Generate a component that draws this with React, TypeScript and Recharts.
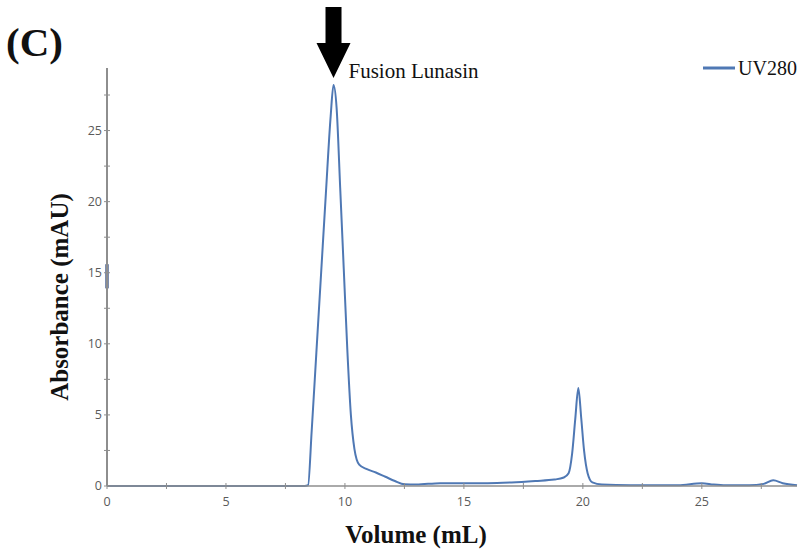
import React from 'react'
import {
  LineChart,
  Line,
  XAxis,
  YAxis,
  ReferenceDot,
  ReferenceLine,
} from 'recharts'

// elution volume (mL) and UV280 absorbance (mAU)
const volume = [
  0, 2, 4, 6, 8, 8.3, 8.45, 8.6, 8.8, 9.0, 9.2, 9.4, 9.52, 9.65, 9.8, 9.95,
  10.1, 10.25, 10.4, 10.6, 10.9, 11.3, 11.7, 12.1, 12.5, 13, 14, 15, 16, 17,
  18, 18.8, 19.2, 19.4, 19.55, 19.68, 19.81, 19.93, 20.05, 20.2, 20.4, 20.8,
  22, 23, 24, 25, 25.5, 26, 27, 27.6, 28, 28.4, 29,
]
const uv280 = [
  0, 0, 0, 0, 0, 0, 0.05, 3.8, 9.4, 15, 20.6, 26, 28.2, 26.6, 21, 15.3,
  9.6, 5, 2.6, 1.5, 1.2, 0.95, 0.65, 0.35, 0.12, 0.1, 0.2, 0.2, 0.2, 0.25,
  0.35, 0.45, 0.6, 0.9, 2.3, 4.7, 6.9, 4.8, 2.5, 0.9, 0.25, 0.1,
  0.05, 0.05, 0.05, 0.2, 0.1, 0.05, 0.05, 0.15, 0.4, 0.2, 0.05,
]
const xTicks = [0, 2.5, 5, 7.5, 10, 12.5, 15, 17.5, 20, 22.5, 25, 27.5]
const yTicks = [0, 2.5, 5, 7.5, 10, 12.5, 15, 17.5, 20, 22.5, 25, 27.5]
const peakLabel = 'Fusion Lunasin'
const peakAt = { x: 9.52, y: 28.2 }
const seriesName = 'UV280'

const data = volume.map((v, i) => ({ volume: v, uv: uv280[i] }))

const LINE = '#4f78b4'
const AXIS = '#8e8e8e'
const TICK_TEXT = '#5a5a5a'
const serif = '"Liberation Serif", "Times New Roman", serif'
const sans = '"Open Sans", "Noto Sans", sans-serif'

const XTick = (p: any) => {
  const v = p.payload.value
  return (
    <g>
      <line x1={p.x} x2={p.x} y1={p.y - 3} y2={p.y + 3} stroke={AXIS} strokeWidth={1} />
      {v % 5 === 0 && (
        <text x={p.x} y={p.y + 20} textAnchor="middle" fontSize={12.5} fill={TICK_TEXT} fontFamily={sans}>
          {v}
        </text>
      )}
    </g>
  )
}

const YTick = (p: any) => {
  const v = p.payload.value
  return (
    <g>
      <line x1={p.x - 3} x2={p.x + 3} y1={p.y} y2={p.y} stroke={AXIS} strokeWidth={1} />
      {v % 5 === 0 && (
        <text x={p.x - 5} y={p.y + 4} textAnchor="end" fontSize={12.5} fill={TICK_TEXT} fontFamily={sans}>
          {v}
        </text>
      )}
    </g>
  )
}

const PeakArrow = (p: any) => {
  const { cx, cy } = p
  const tip = cy - 7
  const base = cy - 42
  const top = cy - 78
  const pts = [
    [cx, tip],
    [cx - 17, base],
    [cx - 8, base],
    [cx - 8, top],
    [cx + 8, top],
    [cx + 8, base],
    [cx + 17, base],
  ]
    .map(q => q.join(','))
    .join(' ')
  return (
    <g>
      <polygon points={pts} fill="#000" />
      <text x={cx + 15} y={tip} fontSize={21} fontFamily={serif} fill="#111">
        {peakLabel}
      </text>
    </g>
  )
}

export default function App() {
  return (
    <div style={{ position: 'absolute', left: 0, top: 0, width: 809, height: 550, background: '#fff' }}>
      <LineChart
        width={809}
        height={550}
        data={data}
        margin={{ top: 68, right: 12, left: 47, bottom: 0 }}
      >
        <XAxis
          dataKey="volume"
          type="number"
          domain={[0, 29]}
          ticks={xTicks}
          interval={0}
          tick={<XTick />}
          tickLine={false}
          tickSize={0}
          tickMargin={0}
          height={64}
          axisLine={{ stroke: AXIS, strokeWidth: 1.5 }}
        />
        <YAxis
          type="number"
          domain={[0, 29.4]}
          ticks={yTicks}
          interval={0}
          tick={<YTick />}
          tickLine={false}
          tickSize={0}
          tickMargin={0}
          width={60}
          axisLine={{ stroke: AXIS, strokeWidth: 2 }}
        />
        <ReferenceLine
          segment={[{ x: 0, y: 13.9 }, { x: 0, y: 15.6 }]}
          stroke="#7b8db0"
          strokeWidth={4}
        />
        <Line
          type="monotone"
          dataKey="uv"
          stroke={LINE}
          strokeWidth={2}
          dot={false}
          isAnimationActive={false}
        />
        <ReferenceDot x={peakAt.x} y={peakAt.y} r={0} shape={<PeakArrow />} />
      </LineChart>
      <svg width={809} height={550} style={{ position: 'absolute', left: 0, top: 0, pointerEvents: 'none' }}>
        <text x={6} y={56} fontSize={41} fontWeight="bold" fontFamily={serif} fill="#111">
          (C)
        </text>
        <text
          x={0}
          y={0}
          transform="translate(68,297) rotate(-90)"
          textAnchor="middle"
          fontSize={25}
          fontWeight="bold"
          fontFamily={serif}
          fill="#111"
        >
          Absorbance (mAU)
        </text>
        <text x={416} y={543} textAnchor="middle" fontSize={25} fontWeight="bold" fontFamily={serif} fill="#111">
          Volume (mL)
        </text>
        <line x1={703} x2={735} y1={68} y2={68} stroke={LINE} strokeWidth={3} />
        <text x={738} y={75} fontSize={20} fontFamily={serif} fill="#111">
          {seriesName}
        </text>
      </svg>
    </div>
  )
}
